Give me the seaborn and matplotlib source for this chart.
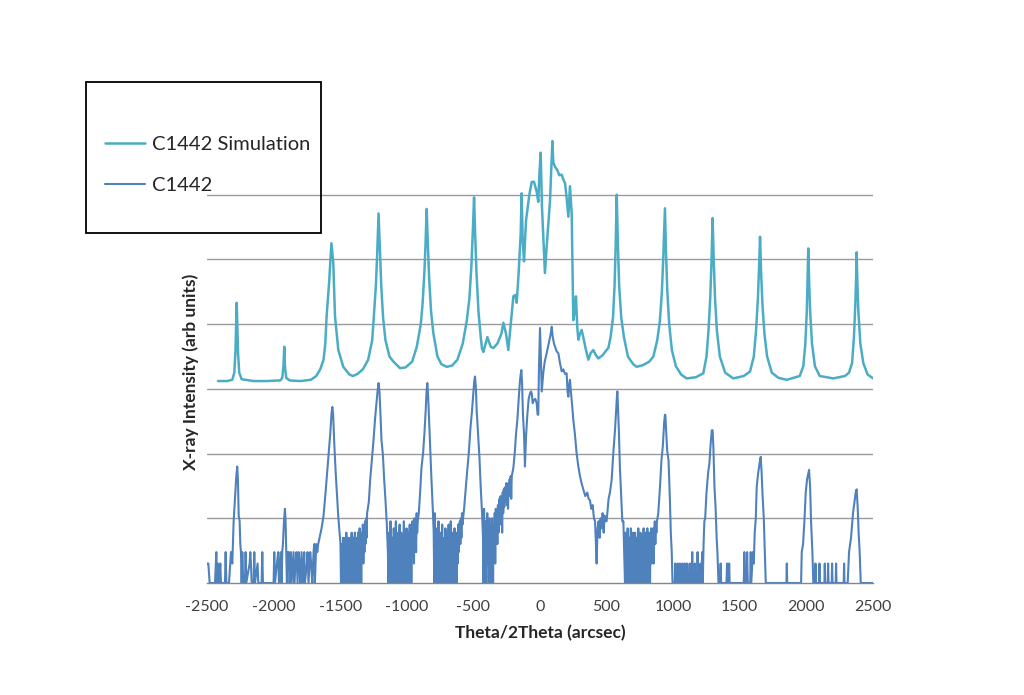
import numpy as np
import pandas as pd
import matplotlib
matplotlib.use("Agg")
import matplotlib.pyplot as plt
import seaborn as sns
from matplotlib.patches import Rectangle

## values: (theta/2theta arcsec, intensity)
sim_points = [
    (-2417, 1320), (-2350, 1320), (-2310, 1380), (-2295, 1780), (-2286, 3980),
    (-2281, 10000), (-2277, 21400), (-2273, 10000), (-2267, 3550), (-2258, 1780),
    (-2240, 1410), (-2150, 1320), (-2050, 1320), (-1950, 1350), (-1935, 1480),
    (-1926, 2240), (-1920, 4470), (-1915, 2240), (-1905, 1480), (-1880, 1350),
    (-1800, 1320), (-1720, 1380), (-1680, 1580), (-1650, 2000), (-1625, 2820),
    (-1612, 5000), (-1602, 13200), (-1582, 47900), (-1566, 178000), (-1552, 89100),
    (-1539, 13200), (-1514, 3980), (-1477, 2190), (-1430, 1660), (-1404, 1580),
    (-1370, 1700), (-1330, 2000), (-1290, 2820), (-1260, 5620), (-1248, 12600),
    (-1232, 39800), (-1222, 126000), (-1212, 513000), (-1203, 158000), (-1192, 39800),
    (-1178, 12600), (-1160, 5620), (-1130, 3160), (-1100, 2630), (-1051, 2090),
    (-1010, 2140), (-960, 2630), (-925, 4470), (-895, 10000), (-882, 20000),
    (-868, 63100), (-860, 158000), (-851, 603000), (-843, 200000), (-832, 50100),
    (-818, 15800), (-800, 7080), (-770, 3160), (-740, 2400), (-700, 2190),
    (-660, 2290), (-620, 2820), (-580, 5010), (-550, 11200), (-530, 25100),
    (-515, 79400), (-505, 251000), (-495, 912000), (-487, 251000), (-477, 63100),
    (-462, 15800), (-445, 6310), (-435, 4170), (-425, 3720), (-395, 6310),
    (-370, 4470), (-350, 4270), (-320, 5010), (-290, 7080), (-275, 10500),
    (-255, 7080), (-238, 3980), (-220, 10000), (-200, 26900), (-185, 28200),
    (-175, 21400), (-160, 63100), (-145, 251000), (-138, 1050000), (-130, 200000),
    (-120, 93300), (-105, 398000), (-80, 1000000), (-62, 1580000), (-45, 1580000),
    (-25, 1120000), (-13, 776000), (-5, 2000000), (5, 4470000), (15, 631000),
    (37, 61700), (50, 158000), (63, 363000), (75, 794000), (85, 2500000),
    (93, 6760000), (100, 3160000), (113, 2690000), (130, 2400000), (145, 2000000),
    (163, 2040000), (178, 1660000), (188, 1510000), (200, 891000), (213, 457000),
    (225, 1350000), (238, 513000), (250, 11500), (260, 15800), (270, 26900),
    (280, 8910), (288, 5750), (300, 7080), (313, 8130), (330, 5620),
    (345, 3980), (363, 2820), (380, 3550), (400, 3980), (420, 3310),
    (438, 2950), (470, 3310), (500, 3980), (513, 4270), (530, 6310),
    (548, 12600), (560, 39800), (568, 158000), (576, 1000000), (584, 200000),
    (594, 39800), (610, 12600), (630, 6310), (660, 3160), (700, 2400),
    (726, 2190), (776, 2340), (820, 2630), (851, 3160), (880, 5620),
    (900, 11200), (915, 31600), (925, 100000), (938, 617000), (946, 126000),
    (956, 31600), (970, 10000), (990, 3980), (1020, 2240), (1060, 1660),
    (1101, 1450), (1170, 1510), (1226, 1740), (1250, 3160), (1265, 7940),
    (1278, 25100), (1288, 100000), (1296, 437000), (1304, 100000), (1314, 25100),
    (1328, 7940), (1350, 3160), (1390, 1780), (1451, 1450), (1530, 1580),
    (1577, 1860), (1605, 3160), (1622, 7940), (1636, 25100), (1645, 79400),
    (1652, 224000), (1660, 63100), (1670, 20000), (1685, 7080), (1705, 3160),
    (1740, 1780), (1790, 1480), (1852, 1380), (1950, 1580), (1977, 2240),
    (1992, 5010), (2003, 15800), (2009, 50100), (2014, 148000), (2020, 50100),
    (2028, 15800), (2042, 5010), (2064, 2240), (2100, 1580), (2202, 1450),
    (2290, 1580), (2320, 1780), (2343, 2510), (2357, 6310), (2367, 20000),
    (2373, 50100), (2377, 129000), (2382, 50100), (2390, 15800), (2405, 5010),
    (2427, 2510), (2460, 1660), (2502, 1450),
]

meas_points = [
    (-2500, 2), (-2490, 2), (-2480, 1), (-2440, 1), (-2430, 3), (-2425, 1),
    (-2420, 2), (-2410, 1), (-2400, 2), (-2395, 1), (-2365, 1), (-2360, 3),
    (-2355, 1), (-2335, 1), (-2320, 3), (-2310, 2), (-2300, 9), (-2290, 20),
    (-2280, 45), (-2273, 63), (-2268, 40), (-2262, 11), (-2255, 9), (-2250, 4),
    (-2245, 3), (-2240, 1), (-2235, 3), (-2228, 1), (-2215, 1), (-2210, 3),
    (-2205, 1), (-2180, 2), (-2175, 3), (-2170, 2), (-2165, 1), (-2150, 1),
    (-2145, 3), (-2140, 1), (-2120, 2), (-2115, 1), (-2090, 1), (-2085, 3),
    (-2080, 1), (-2050, 1), (-2000, 1), (-1995, 3), (-1990, 1), (-1975, 2),
    (-1965, 3), (-1960, 1), (-1950, 2), (-1945, 3), (-1940, 1), (-1935, 3),
    (-1930, 4), (-1922, 9), (-1915, 14), (-1910, 9), (-1905, 3), (-1900, 1),
    (-1895, 3), (-1890, 2), (-1885, 3), (-1880, 1), (-1870, 3), (-1865, 1),
    (-1850, 3), (-1845, 1), (-1835, 2), (-1828, 3), (-1820, 1), (-1812, 3),
    (-1805, 2), (-1798, 1), (-1790, 3), (-1780, 1), (-1770, 3), (-1765, 1),
    (-1750, 2), (-1745, 3), (-1738, 1), (-1725, 3), (-1718, 2), (-1710, 1),
    (-1700, 3), (-1695, 4), (-1690, 1), (-1680, 4), (-1672, 3), (-1665, 4),
    (-1655, 5), (-1640, 7), (-1625, 11), (-1610, 25), (-1595, 60), (-1585, 107),
    (-1575, 200), (-1565, 420), (-1559, 525), (-1553, 400), (-1545, 150),
    (-1535, 56), (-1525, 25), (-1515, 11), (-1505, 6),
    (-1498, 4), (-1494, 1), (-1490, 2), (-1486, 4), (-1482, 1), (-1478, 5),
    (-1474, 1), (-1470, 3), (-1466, 1), (-1462, 5), (-1458, 1), (-1454, 6),
    (-1450, 2), (-1446, 4), (-1442, 1), (-1438, 5), (-1434, 1), (-1430, 3),
    (-1426, 1), (-1422, 5), (-1418, 2), (-1414, 6), (-1410, 1), (-1406, 4),
    (-1402, 1), (-1398, 5), (-1394, 2), (-1390, 6), (-1386, 1), (-1382, 4),
    (-1378, 1), (-1374, 5), (-1370, 2), (-1366, 6), (-1362, 1), (-1358, 4),
    (-1354, 7), (-1350, 2), (-1346, 5), (-1342, 1), (-1338, 6), (-1334, 3),
    (-1330, 8), (-1326, 2), (-1322, 6), (-1318, 3), (-1314, 9), (-1310, 4),
    (-1306, 10), (-1302, 5), (-1298, 12),
    (-1285, 18), (-1275, 39), (-1262, 80), (-1250, 160), (-1238, 350),
    (-1228, 600), (-1220, 900), (-1212, 1230), (-1205, 900), (-1198, 420),
    (-1190, 160), (-1180, 100), (-1170, 40), (-1160, 19), (-1150, 8),
    (-1142, 3), (-1138, 1), (-1134, 6), (-1130, 1), (-1126, 4), (-1122, 9),
    (-1118, 1), (-1114, 3), (-1110, 1), (-1106, 5), (-1102, 1), (-1098, 7),
    (-1094, 2), (-1090, 1), (-1086, 4), (-1082, 9), (-1078, 1), (-1074, 3),
    (-1070, 1), (-1066, 6), (-1062, 1), (-1058, 4), (-1054, 8), (-1050, 1),
    (-1046, 3), (-1042, 6), (-1038, 1), (-1034, 5), (-1030, 1), (-1026, 4),
    (-1022, 9), (-1018, 2), (-1014, 6), (-1010, 1), (-1006, 4), (-1002, 7),
    (-998, 1), (-994, 3), (-990, 6), (-986, 1), (-982, 5), (-978, 8),
    (-974, 2), (-970, 6), (-966, 1), (-962, 4), (-958, 9), (-954, 3),
    (-950, 7), (-946, 2), (-942, 10), (-938, 4), (-934, 8), (-930, 3),
    (-926, 12), (-922, 6), (-918, 9),
    (-910, 12), (-900, 25), (-890, 60), (-878, 100), (-868, 200), (-858, 470),
    (-852, 900), (-846, 1230), (-840, 800), (-832, 300), (-825, 115), (-815, 40),
    (-805, 14),
    (-798, 6), (-794, 1), (-790, 12), (-786, 2), (-782, 5), (-778, 1),
    (-774, 7), (-770, 1), (-766, 4), (-762, 9), (-758, 1), (-754, 3),
    (-750, 1), (-746, 6), (-742, 1), (-738, 4), (-734, 8), (-730, 1),
    (-726, 3), (-722, 1), (-718, 5), (-714, 1), (-710, 7), (-706, 2),
    (-702, 1), (-698, 6), (-694, 1), (-690, 4), (-686, 8), (-682, 1),
    (-678, 3), (-674, 1), (-670, 9), (-666, 2), (-662, 5), (-658, 1),
    (-654, 6), (-650, 1), (-646, 4), (-642, 7), (-638, 1), (-634, 3),
    (-630, 6), (-626, 1), (-622, 5), (-618, 2), (-614, 8), (-610, 3),
    (-606, 6), (-602, 9), (-598, 4), (-594, 10), (-590, 5), (-586, 12),
    (-582, 8),
    (-570, 14), (-560, 25), (-548, 50), (-535, 100), (-522, 250), (-510, 470),
    (-500, 900), (-494, 1300), (-488, 1550), (-482, 1100), (-475, 450),
    (-465, 200), (-455, 90), (-445, 30), (-435, 12),
    (-428, 5), (-424, 1), (-420, 14), (-416, 3), (-412, 2), (-408, 9),
    (-404, 1), (-400, 6), (-396, 12), (-392, 2), (-388, 8), (-384, 1),
    (-380, 10), (-376, 3), (-372, 1), (-368, 7), (-364, 1), (-360, 10),
    (-356, 2), (-352, 1), (-348, 8), (-344, 3), (-340, 12), (-336, 2),
    (-332, 14), (-328, 5), (-324, 10), (-320, 4), (-316, 16), (-312, 6),
    (-308, 12), (-304, 20), (-300, 8), (-296, 22), (-292, 10), (-288, 18),
    (-284, 6), (-280, 25), (-276, 12), (-272, 28), (-268, 15), (-264, 30),
    (-260, 18), (-256, 22), (-252, 35), (-248, 16), (-244, 30), (-240, 14),
    (-236, 35), (-232, 22), (-228, 40), (-224, 25), (-220, 45), (-216, 20),
    (-212, 45),
    (-200, 60), (-190, 100), (-180, 200), (-170, 331), (-162, 600),
    (-155, 1000), (-148, 1500), (-140, 1950), (-135, 1290), (-128, 400),
    (-120, 200), (-113, 63), (-105, 182), (-95, 400), (-85, 700), (-75, 851),
    (-68, 912), (-62, 850), (-55, 600), (-45, 676), (-35, 700), (-25, 600),
    (-18, 400), (-13, 398), (-8, 2000), (0, 8710), (5, 4000), (13, 912),
    (25, 1800), (35, 2600), (50, 3550), (65, 5000), (80, 7000), (88, 9120),
    (95, 6500), (105, 5000), (113, 4470), (125, 3800), (138, 3550), (150, 2500),
    (163, 1860), (175, 2000), (188, 1700), (200, 1740), (207, 900), (213, 759),
    (220, 1200), (225, 1380), (232, 900), (240, 600), (250, 331), (262, 200),
    (275, 100), (288, 63), (300, 45), (312, 35), (325, 28), (340, 22),
    (355, 25), (365, 20), (375, 19), (385, 14), (395, 16), (405, 10),
    (413, 9), (420, 4), (425, 2), (432, 7), (440, 9), (448, 5), (455, 10),
    (463, 7), (470, 12), (478, 6), (485, 11), (492, 9), (500, 9), (508, 14),
    (515, 20), (525, 25), (538, 39), (550, 100), (563, 229), (572, 500),
    (578, 800), (581, 912), (586, 500), (592, 229), (600, 60), (610, 20),
    (618, 9), (626, 9), (632, 3),
    (638, 1), (642, 6), (646, 1), (650, 4), (654, 1), (658, 7),
    (662, 2), (666, 1), (670, 5), (674, 1), (678, 3), (682, 7),
    (686, 1), (690, 4), (694, 1), (698, 6), (702, 1), (706, 3),
    (710, 1), (714, 6), (718, 2), (722, 1), (726, 5), (730, 1),
    (734, 3), (738, 7), (742, 1), (746, 4), (750, 1), (754, 6),
    (758, 2), (762, 1), (766, 5), (770, 1), (774, 4), (778, 7),
    (782, 1), (786, 5), (790, 2), (794, 6), (798, 1), (802, 4),
    (806, 7), (810, 1), (814, 5), (818, 2), (822, 6), (826, 1),
    (830, 4), (834, 7), (838, 2), (842, 6), (846, 3), (850, 7),
    (854, 2), (858, 6), (862, 9), (866, 4), (870, 8), (874, 6),
    (878, 9),
    (888, 12), (901, 31), (912, 80), (922, 129), (932, 300), (938, 398),
    (941, 398), (946, 250), (955, 110), (965, 79), (975, 20), (982, 6),
    (989, 3), (995, 1),
    (1012, 1), (1015, 2), (1018, 1), (1030, 1), (1033, 2), (1036, 1),
    (1048, 1), (1051, 2), (1054, 1), (1066, 1), (1069, 2), (1072, 1),
    (1084, 1), (1087, 2), (1090, 1), (1102, 1), (1105, 2), (1108, 1),
    (1120, 1), (1125, 2), (1128, 1), (1140, 1), (1143, 3), (1146, 1),
    (1160, 1), (1162, 2), (1166, 1), (1180, 1), (1183, 3), (1186, 1),
    (1200, 1), (1205, 2), (1210, 1), (1218, 3), (1222, 1), (1228, 4),
    (1234, 9), (1240, 10), (1250, 25), (1262, 50), (1272, 71), (1282, 150),
    (1290, 229), (1296, 229), (1302, 120), (1310, 30), (1318, 15), (1326, 5),
    (1332, 3), (1340, 1), (1352, 1), (1356, 2), (1360, 1), (1400, 1),
    (1404, 2), (1408, 1), (1416, 1), (1420, 2), (1424, 1), (1440, 1),
    (1500, 1), (1530, 1), (1534, 3), (1538, 1), (1550, 1), (1555, 3),
    (1560, 1), (1578, 1), (1582, 3), (1586, 1), (1598, 3), (1605, 2),
    (1612, 6), (1620, 10), (1627, 31), (1638, 50), (1648, 70), (1657, 89),
    (1664, 50), (1670, 25), (1680, 10), (1688, 3), (1695, 1), (1710, 1),
    (1750, 1), (1850, 1), (1853, 2), (1856, 1), (1960, 1), (1965, 3),
    (1975, 4), (1985, 9), (1995, 25), (2005, 40), (2020, 56), (2028, 30),
    (2035, 9), (2045, 3), (2052, 1), (2065, 1), (2068, 2), (2071, 1),
    (2095, 1), (2098, 2), (2101, 1), (2135, 1), (2138, 2), (2141, 1),
    (2160, 1), (2163, 2), (2166, 1), (2190, 1), (2193, 2), (2196, 1),
    (2220, 1), (2223, 2), (2226, 1), (2280, 1), (2283, 2), (2286, 1),
    (2310, 1), (2320, 3), (2335, 5), (2350, 12), (2362, 19), (2370, 25),
    (2377, 28), (2385, 15), (2392, 6), (2400, 3), (2408, 1), (2430, 1),
    (2500, 1),
]

x_ticks = [-2500, -2000, -1500, -1000, -500, 0, 500, 1000, 1500, 2000, 2500]
grid_levels = [1e1, 1e2, 1e3, 1e4, 1e5, 1e6]

sim_df = pd.DataFrame(sim_points, columns=["theta", "intensity"])
meas_df = pd.DataFrame(meas_points, columns=["theta", "intensity"])

sns.set_style("white")
plt.rcParams["font.family"] = ["Lato", "DejaVu Sans"]
plt.rcParams["axes.unicode_minus"] = False

fig = plt.figure(figsize=(10.24, 6.95), dpi=100)
ax = fig.add_axes([207 / 1024, 1 - 583 / 695, 666 / 1024, 453 / 695])
ax.set_yscale("log")

sns.lineplot(data=sim_df, x="theta", y="intensity", ax=ax, color="#4BACC6",
             lw=1.8, estimator=None, label="C1442 Simulation")
sns.lineplot(data=meas_df, x="theta", y="intensity", ax=ax, color="#4F81BD",
             lw=1.5, estimator=None, label="C1442")

ax.set_xlim(-2500, 2500)
ax.set_ylim(1, 1e7)
ax.set_xticks(x_ticks)
ax.set_xticklabels([str(t) for t in x_ticks], fontsize=11.5, color="#404040")
ax.set_yticks(grid_levels)
ax.yaxis.set_minor_locator(matplotlib.ticker.NullLocator())
ax.set_yticklabels([])
ax.tick_params(axis="y", length=0)
ax.tick_params(axis="x", direction="out", length=5, color="#868686", pad=7)
ax.yaxis.grid(True, color="#9a9a9a", lw=1)
ax.xaxis.grid(False)
for s in ["left", "top", "right"]:
    ax.spines[s].set_visible(False)
ax.spines["bottom"].set_color("#868686")
ax.spines["bottom"].set_linewidth(1)

ax.set_xlabel("Theta/2Theta (arcsec)", fontsize=12.5, fontweight="bold", labelpad=8)
ax.set_ylabel("X-ray Intensity (arb units)", fontsize=12.5, fontweight="bold")
ax.yaxis.set_label_coords(-0.012, 0.466)

ax.get_legend().remove()
handles, labels = ax.get_legend_handles_labels()
fig.legend(handles, labels, loc="upper left", frameon=False, fontsize=14.5,
           bbox_to_anchor=(95 / 1024, 1 - 126 / 695), borderpad=0,
           handlelength=2.0, handletextpad=0.35, labelspacing=1.2)
fig.patches.append(Rectangle((86 / 1024, 1 - 233 / 695), 235 / 1024, 151 / 695,
                             transform=fig.transFigure, fill=False,
                             edgecolor="black", lw=1.3))

plt.savefig("out.png", dpi=100)
